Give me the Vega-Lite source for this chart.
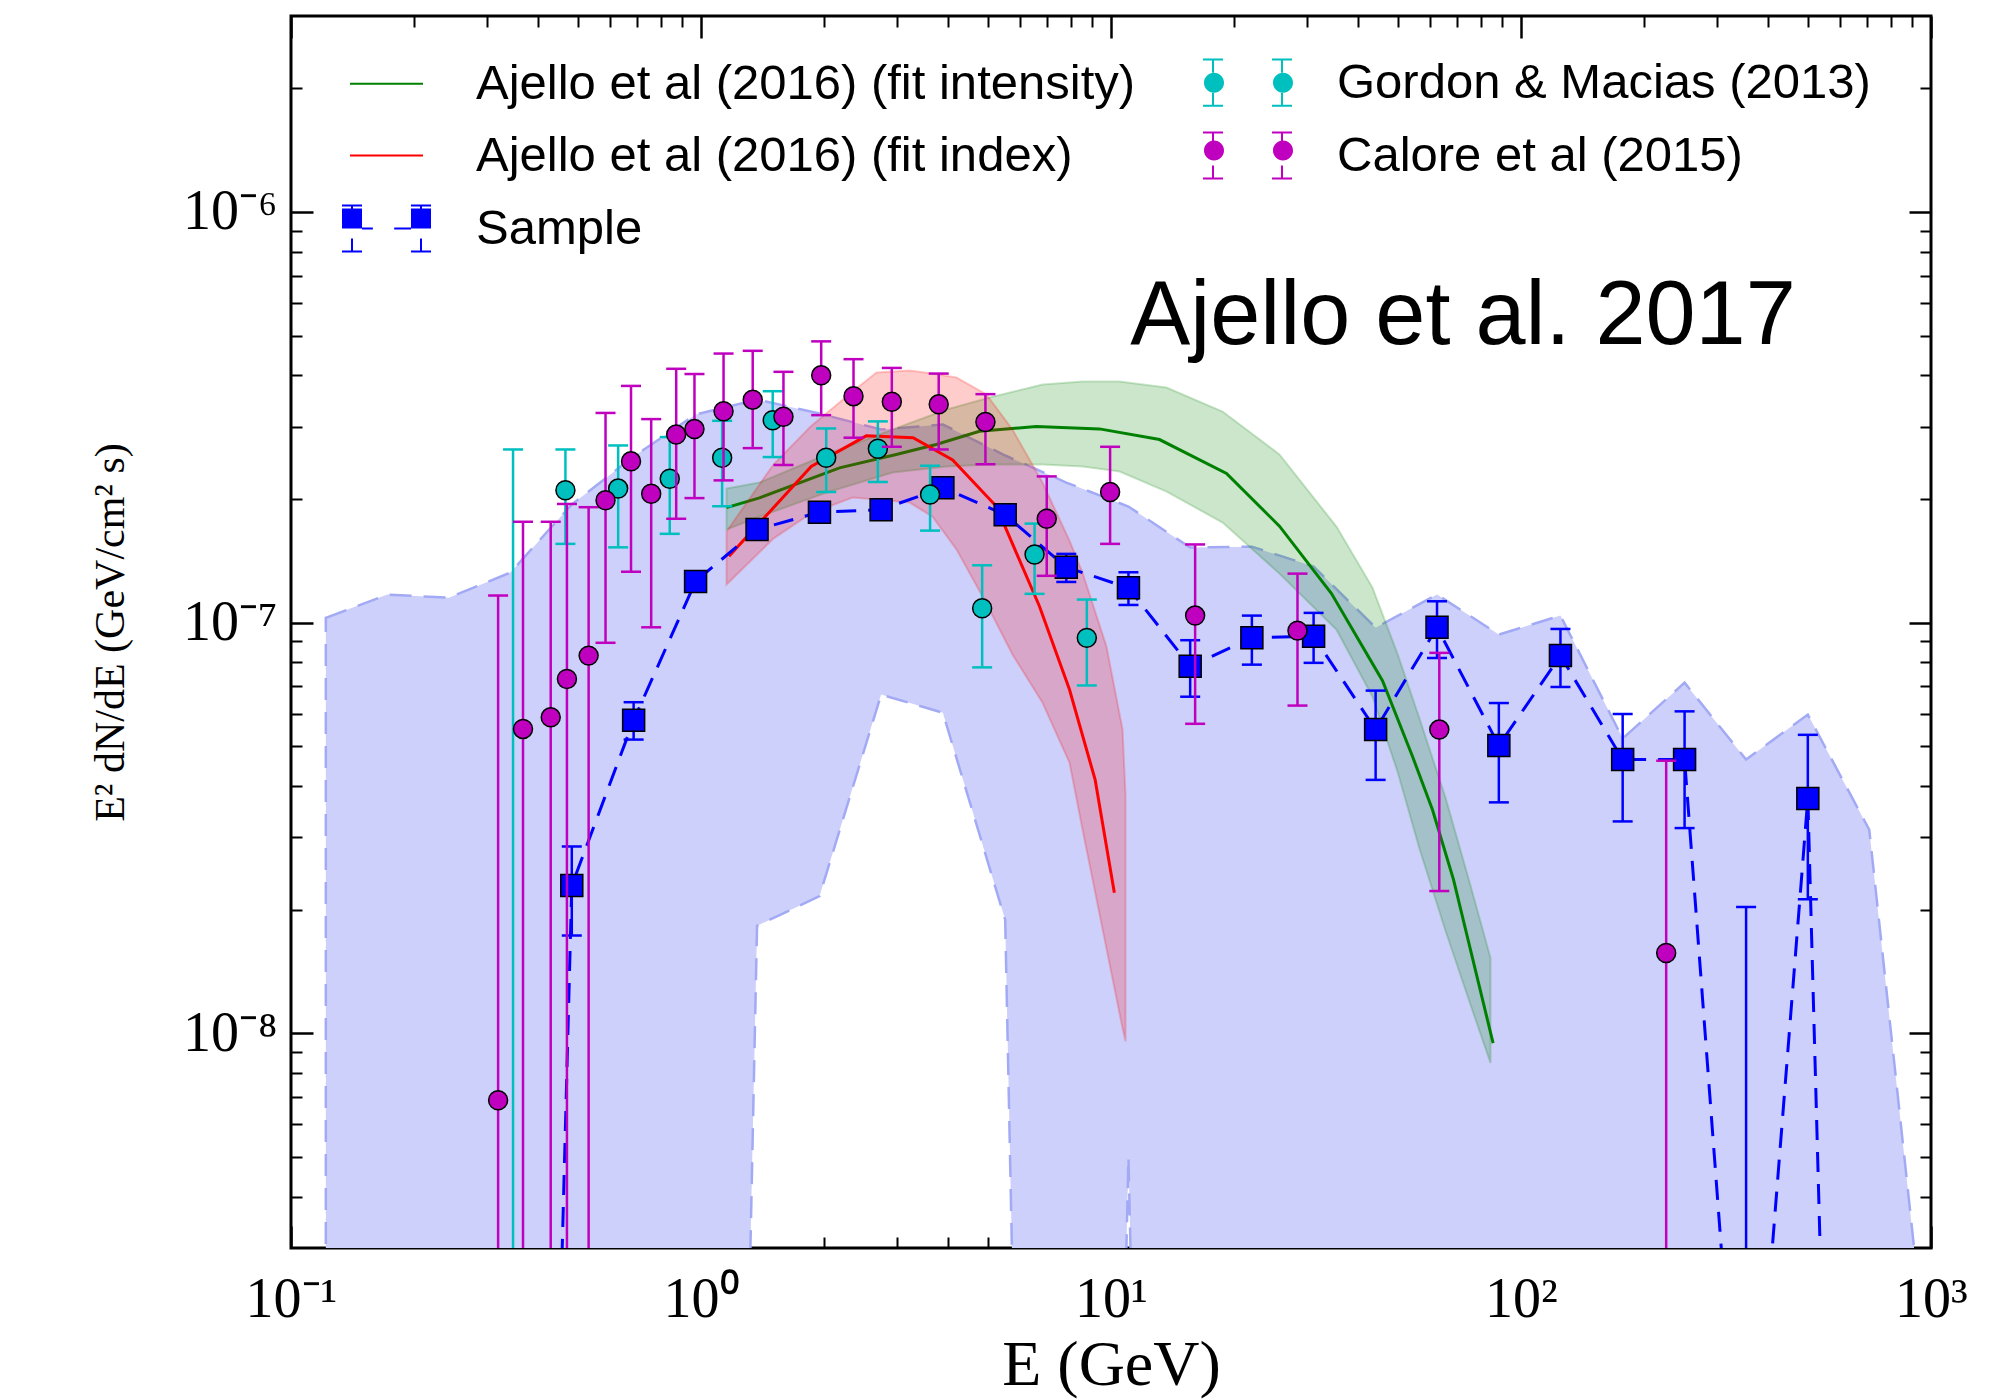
{
  "$schema": "https://vega.github.io/schema/vega-lite/v6.json",
  "width": 1640,
  "height": 1232,
  "autosize": {"type": "none"},
  "padding": {"left": 291, "top": 16, "right": 72, "bottom": 152},
  "background": "white",
  "config": {
    "view": {"stroke": "black", "strokeWidth": 3},
    "axis": {"grid": false, "domain": false, "tickColor": "black", "labelColor": "black", "titleColor": "black"}
  },
  "datasets": {
    "band": [
      {"E": 0.1216, "lo": 1e-15, "hi": 1.027e-7},
      {"E": 0.1718, "lo": 1e-15, "hi": 1.170e-7},
      {"E": 0.2427, "lo": 1e-15, "hi": 1.150e-7},
      {"E": 0.343, "lo": 1e-15, "hi": 1.324e-7},
      {"E": 0.484, "lo": 1e-15, "hi": 1.939e-7},
      {"E": 0.685, "lo": 1e-15, "hi": 2.538e-7},
      {"E": 0.97, "lo": 1e-15, "hi": 3.211e-7},
      {"E": 1.37, "lo": 1.827e-8, "hi": 3.493e-7},
      {"E": 1.945, "lo": 2.157e-8, "hi": 3.229e-7},
      {"E": 2.75, "lo": 6.68e-8, "hi": 2.952e-7},
      {"E": 3.89, "lo": 6.03e-8, "hi": 3.036e-7},
      {"E": 5.52, "lo": 1.89e-8, "hi": 2.552e-7},
      {"E": 7.78, "lo": 1e-15, "hi": 2.193e-7},
      {"E": 11.03, "lo": 5.0e-9, "hi": 1.917e-7},
      {"E": 15.6, "lo": 1e-15, "hi": 1.523e-7},
      {"E": 22.06, "lo": 1e-15, "hi": 1.531e-7},
      {"E": 31.2, "lo": 1e-15, "hi": 1.369e-7},
      {"E": 44.2, "lo": 1e-15, "hi": 9.72e-8},
      {"E": 62.4, "lo": 1e-15, "hi": 1.170e-7},
      {"E": 88.3, "lo": 1e-15, "hi": 9.35e-8},
      {"E": 124.8, "lo": 1e-15, "hi": 1.040e-7},
      {"E": 177, "lo": 1e-15, "hi": 5.22e-8},
      {"E": 250.6, "lo": 1e-15, "hi": 7.14e-8},
      {"E": 354, "lo": 1e-15, "hi": 4.64e-8},
      {"E": 500.7, "lo": 1e-15, "hi": 5.97e-8},
      {"E": 707, "lo": 1e-15, "hi": 3.13e-8},
      {"E": 1000, "lo": 1e-15, "hi": 1.24e-9}
    ],
    "intensityBand": [
      {"E": 1.154, "lo": 1.685e-7, "hi": 2.120e-7},
      {"E": 1.389, "lo": 1.812e-7, "hi": 2.193e-7},
      {"E": 2.023, "lo": 2.073e-7, "hi": 2.567e-7},
      {"E": 2.932, "lo": 2.320e-7, "hi": 2.952e-7},
      {"E": 3.971, "lo": 2.399e-7, "hi": 3.303e-7},
      {"E": 5.055, "lo": 2.426e-7, "hi": 3.533e-7},
      {"E": 6.808, "lo": 2.426e-7, "hi": 3.800e-7},
      {"E": 8.52, "lo": 2.399e-7, "hi": 3.865e-7},
      {"E": 10.49, "lo": 2.333e-7, "hi": 3.865e-7},
      {"E": 13.66, "lo": 2.085e-7, "hi": 3.737e-7},
      {"E": 18.71, "lo": 1.752e-7, "hi": 3.266e-7},
      {"E": 25.76, "lo": 1.316e-7, "hi": 2.567e-7},
      {"E": 35.48, "lo": 9.61e-8, "hi": 1.713e-7},
      {"E": 43.43, "lo": 6.60e-8, "hi": 1.217e-7},
      {"E": 49.97, "lo": 4.34e-8, "hi": 8.40e-8},
      {"E": 56.55, "lo": 2.814e-8, "hi": 5.84e-8},
      {"E": 65.44, "lo": 1.777e-8, "hi": 3.75e-8},
      {"E": 74.87, "lo": 1.193e-8, "hi": 2.339e-8},
      {"E": 84.25, "lo": 8.47e-9, "hi": 1.527e-8}
    ],
    "intensityLine": [
      {"E": 1.154, "v": 1.905e-7},
      {"E": 1.389, "v": 2.013e-7},
      {"E": 2.177, "v": 2.381e-7},
      {"E": 2.993, "v": 2.567e-7},
      {"E": 3.747, "v": 2.714e-7},
      {"E": 4.778, "v": 2.924e-7},
      {"E": 6.57, "v": 3.002e-7},
      {"E": 9.376, "v": 2.963e-7},
      {"E": 13.13, "v": 2.791e-7},
      {"E": 19.13, "v": 2.307e-7},
      {"E": 25.76, "v": 1.717e-7},
      {"E": 34.5, "v": 1.177e-7},
      {"E": 45.94, "v": 7.22e-8},
      {"E": 54.38, "v": 4.72e-8},
      {"E": 60.83, "v": 3.50e-8},
      {"E": 68.45, "v": 2.366e-8},
      {"E": 85.5, "v": 9.46e-9}
    ],
    "indexBand": [
      {"E": 1.154, "lo": 1.238e-7, "hi": 1.667e-7},
      {"E": 1.502, "lo": 1.602e-7, "hi": 2.426e-7},
      {"E": 1.85, "lo": 1.843e-7, "hi": 3.002e-7},
      {"E": 2.342, "lo": 2.016e-7, "hi": 3.654e-7},
      {"E": 2.679, "lo": 1.994e-7, "hi": 4.064e-7},
      {"E": 3.225, "lo": 1.960e-7, "hi": 4.110e-7},
      {"E": 3.669, "lo": 1.812e-7, "hi": 4.042e-7},
      {"E": 4.201, "lo": 1.506e-7, "hi": 3.952e-7},
      {"E": 4.97, "lo": 1.112e-7, "hi": 3.593e-7},
      {"E": 5.75, "lo": 8.36e-8, "hi": 2.952e-7},
      {"E": 6.808, "lo": 6.38e-8, "hi": 2.193e-7},
      {"E": 7.921, "lo": 4.56e-8, "hi": 1.584e-7},
      {"E": 8.52, "lo": 3.14e-8, "hi": 1.324e-7},
      {"E": 9.75, "lo": 1.607e-8, "hi": 8.74e-8},
      {"E": 10.67, "lo": 1.028e-8, "hi": 5.49e-8},
      {"E": 10.85, "lo": 9.56e-9, "hi": 3.79e-8}
    ],
    "indexLine": [
      {"E": 1.17, "v": 1.45e-7},
      {"E": 1.857, "v": 2.40e-7},
      {"E": 2.53, "v": 2.85e-7},
      {"E": 3.29, "v": 2.82e-7},
      {"E": 4.11, "v": 2.49e-7},
      {"E": 5.25, "v": 1.92e-7},
      {"E": 6.69, "v": 1.096e-7},
      {"E": 7.92, "v": 6.87e-8},
      {"E": 9.15, "v": 4.14e-8},
      {"E": 10.19, "v": 2.20e-8}
    ],
    "sample": [
      {"E": 0.343, "v": 5e-14},
      {"E": 0.484, "v": 2.29e-8, "lo": 1.73e-8, "hi": 2.85e-8},
      {"E": 0.685, "v": 5.78e-8, "lo": 5.19e-8, "hi": 6.4e-8},
      {"E": 0.97, "v": 1.26e-7, "lo": 1.21e-7, "hi": 1.31e-7},
      {"E": 1.37, "v": 1.685e-7, "lo": 1.62e-7, "hi": 1.75e-7},
      {"E": 1.945, "v": 1.857e-7, "lo": 1.79e-7, "hi": 1.93e-7},
      {"E": 2.75, "v": 1.884e-7, "lo": 1.81e-7, "hi": 1.96e-7},
      {"E": 3.89, "v": 2.13e-7, "lo": 2.05e-7, "hi": 2.21e-7},
      {"E": 5.52, "v": 1.83e-7, "lo": 1.76e-7, "hi": 1.9e-7},
      {"E": 7.78, "v": 1.364e-7, "lo": 1.256e-7, "hi": 1.47e-7},
      {"E": 11.03, "v": 1.215e-7, "lo": 1.104e-7, "hi": 1.326e-7},
      {"E": 15.6, "v": 7.83e-8, "lo": 6.6e-8, "hi": 9.06e-8},
      {"E": 22.06, "v": 9.18e-8, "lo": 7.9e-8, "hi": 1.04e-7},
      {"E": 31.2, "v": 9.26e-8, "lo": 7.98e-8, "hi": 1.056e-7},
      {"E": 44.2, "v": 5.49e-8, "lo": 4.14e-8, "hi": 6.83e-8},
      {"E": 62.4, "v": 9.74e-8, "lo": 8.2e-8, "hi": 1.127e-7},
      {"E": 88.3, "v": 5.02e-8, "lo": 3.65e-8, "hi": 6.37e-8},
      {"E": 124.8, "v": 8.31e-8, "lo": 6.97e-8, "hi": 9.65e-8},
      {"E": 177, "v": 4.64e-8, "lo": 3.28e-8, "hi": 5.99e-8},
      {"E": 250.6, "v": 4.64e-8, "lo": 3.16e-8, "hi": 6.08e-8},
      {"E": 354, "v": 4.7e-10, "lo": 1e-12, "hi": 2.03e-8},
      {"E": 500.7, "v": 3.73e-8, "lo": 2.12e-8, "hi": 5.33e-8},
      {"E": 707, "v": 1.3e-13}
    ],
    "gordon": [
      {"E": 0.348, "v": 1e-9, "lo": 1e-12, "hi": 2.64e-7},
      {"E": 0.467, "v": 2.10e-7, "lo": 1.555e-7, "hi": 2.64e-7},
      {"E": 0.628, "v": 2.12e-7, "lo": 1.525e-7, "hi": 2.70e-7},
      {"E": 0.839, "v": 2.24e-7, "lo": 1.645e-7, "hi": 2.83e-7},
      {"E": 1.126, "v": 2.52e-7, "lo": 1.92e-7, "hi": 3.10e-7},
      {"E": 1.496, "v": 3.11e-7, "lo": 2.53e-7, "hi": 3.66e-7},
      {"E": 2.02, "v": 2.52e-7, "lo": 2.08e-7, "hi": 2.97e-7},
      {"E": 2.7, "v": 2.65e-7, "lo": 2.20e-7, "hi": 3.09e-7},
      {"E": 3.62, "v": 2.05e-7, "lo": 1.675e-7, "hi": 2.41e-7},
      {"E": 4.85, "v": 1.084e-7, "lo": 7.78e-8, "hi": 1.379e-7},
      {"E": 6.51, "v": 1.465e-7, "lo": 1.175e-7, "hi": 1.742e-7},
      {"E": 8.73, "v": 9.18e-8, "lo": 7.03e-8, "hi": 1.138e-7}
    ],
    "calore": [
      {"E": 0.32, "v": 6.87e-9, "lo": 1e-12, "hi": 1.164e-7},
      {"E": 0.368, "v": 5.51e-8, "lo": 1e-12, "hi": 1.76e-7},
      {"E": 0.43, "v": 5.88e-8, "lo": 1e-12, "hi": 1.76e-7},
      {"E": 0.471, "v": 7.29e-8, "lo": 1e-12, "hi": 1.945e-7},
      {"E": 0.532, "v": 8.31e-8, "lo": 1e-12, "hi": 1.91e-7},
      {"E": 0.585, "v": 1.986e-7, "lo": 8.93e-8, "hi": 3.24e-7},
      {"E": 0.675, "v": 2.47e-7, "lo": 1.33e-7, "hi": 3.77e-7},
      {"E": 0.756, "v": 2.06e-7, "lo": 9.74e-8, "hi": 3.13e-7},
      {"E": 0.87, "v": 2.87e-7, "lo": 1.79e-7, "hi": 4.15e-7},
      {"E": 0.964, "v": 2.96e-7, "lo": 2.01e-7, "hi": 4.03e-7},
      {"E": 1.135, "v": 3.27e-7, "lo": 2.22e-7, "hi": 4.52e-7},
      {"E": 1.337, "v": 3.49e-7, "lo": 2.66e-7, "hi": 4.59e-7},
      {"E": 1.589, "v": 3.17e-7, "lo": 2.42e-7, "hi": 4.08e-7},
      {"E": 1.964, "v": 4.0e-7, "lo": 3.20e-7, "hi": 4.84e-7},
      {"E": 2.355, "v": 3.56e-7, "lo": 2.82e-7, "hi": 4.38e-7},
      {"E": 2.92, "v": 3.45e-7, "lo": 2.68e-7, "hi": 4.17e-7},
      {"E": 3.8, "v": 3.40e-7, "lo": 2.64e-7, "hi": 4.04e-7},
      {"E": 4.94, "v": 3.08e-7, "lo": 2.43e-7, "hi": 3.6e-7},
      {"E": 6.97, "v": 1.79e-7, "lo": 1.30e-7, "hi": 2.27e-7},
      {"E": 9.95, "v": 2.08e-7, "lo": 1.555e-7, "hi": 2.68e-7},
      {"E": 16.04, "v": 1.04e-7, "lo": 5.67e-8, "hi": 1.55e-7},
      {"E": 28.5, "v": 9.56e-8, "lo": 6.28e-8, "hi": 1.316e-7},
      {"E": 63.2, "v": 5.49e-8, "lo": 2.22e-8, "hi": 8.44e-8},
      {"E": 226, "v": 1.568e-8, "lo": 1e-12, "hi": 4.61e-8}
    ]
  },
  "resolve": {"axis": {"x": "independent", "y": "independent"}},
  "layer": [
    {
      "data": {"name": "band"},
      "mark": {"type": "area", "clip": true, "fill": "#cdd0fa", "stroke": "#a3aaf5", "strokeWidth": 2.5, "strokeDash": [22, 12]},
      "encoding": {
        "x": {
          "field": "E", "type": "quantitative",
          "scale": {"type": "log", "domain": [0.1, 1000], "nice": false},
          "axis": {
            "orient": "bottom", "values": [0.1, 1, 10, 100, 1000],
            "tickSize": -22, "tickWidth": 2.5, "domain": false, "grid": false,
            "labelExpr": "datum.value < 0.5 ? '10⁻¹' : datum.value < 5 ? '10⁰' : datum.value < 50 ? '10¹' : datum.value < 500 ? '10²' : '10³'",
            "labelFont": "Liberation Serif", "labelFontSize": 56, "labelPadding": 46,
            "labelFlush": false, "labelOverlap": false, "labelBound": false,
            "title": "E (GeV)", "titleFont": "Liberation Serif", "titleFontSize": 64,
            "titleFontWeight": "normal", "titlePadding": 6
          }
        },
        "y": {
          "field": "hi", "type": "quantitative",
          "scale": {"type": "log", "domain": [3e-9, 3e-6], "nice": false},
          "axis": {
            "orient": "left", "values": [1e-8, 1e-7, 1e-6],
            "tickSize": -22, "tickWidth": 2.5, "domain": false, "grid": false,
            "labelExpr": "datum.value < 5e-8 ? '10⁻⁸' : datum.value < 5e-7 ? '10⁻⁷' : '10⁻⁶'",
            "labelFont": "Liberation Serif", "labelFontSize": 56, "labelPadding": 36,
            "labelFlush": false, "labelOverlap": false, "labelBound": false,
            "title": "E² dN/dE  (GeV/cm² s)", "titleFont": "Liberation Serif", "titleFontSize": 42,
            "titleFontWeight": "normal", "titlePadding": 50
          }
        },
        "y2": {"field": "lo"}
      }
    },
    {
      "data": {"name": "intensityBand"},
      "mark": {"type": "area", "clip": true, "fill": "#008000", "fillOpacity": 0.2, "stroke": "#008000", "strokeOpacity": 0.2, "strokeWidth": 2},
      "encoding": {
        "x": {
          "field": "E", "type": "quantitative",
          "axis": {"orient": "bottom", "values": [0.2, 0.3, 0.4, 0.5, 0.6, 0.7, 0.8, 0.9, 2, 3, 4, 5, 6, 7, 8, 9, 20, 30, 40, 50, 60, 70, 80, 90, 200, 300, 400, 500, 600, 700, 800, 900],
                   "tickSize": -11, "tickWidth": 2, "labels": false, "domain": false, "grid": false, "title": null}
        },
        "y": {
          "field": "hi", "type": "quantitative",
          "axis": {"orient": "left", "values": [4e-9, 5e-9, 6e-9, 7e-9, 8e-9, 9e-9, 2e-8, 3e-8, 4e-8, 5e-8, 6e-8, 7e-8, 8e-8, 9e-8, 2e-7, 3e-7, 4e-7, 5e-7, 6e-7, 7e-7, 8e-7, 9e-7, 2e-6],
                   "tickSize": -11, "tickWidth": 2, "labels": false, "domain": false, "grid": false, "title": null}
        },
        "y2": {"field": "lo"}
      }
    },
    {
      "data": {"name": "intensityLine"},
      "mark": {"type": "line", "clip": true, "strokeWidth": 3},
      "encoding": {
        "x": {
          "field": "E", "type": "quantitative",
          "axis": {"orient": "top", "values": [0.1, 1, 10, 100, 1000], "tickSize": -22, "tickWidth": 2.5, "labels": false, "domain": false, "grid": false, "title": null}
        },
        "y": {
          "field": "v", "type": "quantitative",
          "axis": {"orient": "right", "values": [1e-8, 1e-7, 1e-6], "tickSize": -22, "tickWidth": 2.5, "labels": false, "domain": false, "grid": false, "title": null}
        },
        "stroke": {
          "datum": "Ajello et al (2016) (fit intensity)",
          "scale": {
            "domain": ["Ajello et al (2016) (fit intensity)", "Gordon & Macias (2013)", "Ajello et al (2016) (fit index)", "Calore et al (2015)", "Sample"],
            "range": ["#008000", "#00bfbf", "#ff0000", "#bf00bf", "#0000ff"]
          },
          "legend": {
            "orient": "none", "legendX": 51, "legendY": 42, "columns": 2, "direction": "horizontal", "title": null, "padding": 0,
            "symbolSize": 1936, "symbolStrokeWidth": 2, "symbolOffset": 20,
            "labelFont": "Liberation Sans", "labelFontSize": 49, "labelColor": "black",
            "labelOffset": 65, "labelLimit": 2000, "rowPadding": 18, "columnPadding": 62,
            "encode": {
              "symbols": {
                "update": {
                  "shape": {"signal": "datum.value === 'Sample' ? 'M-1.568,-1.05V-0.455M-1.568,0.455V1.05M-2.023,-1.05H-1.113M-2.023,1.05H-1.113M1.568,-1.05V-0.455M1.568,0.455V1.05M1.113,-1.05H2.023M1.113,1.05H2.023M-1.113,0H-0.62M0.35,0H1.113' : indexof(datum.value, 'Ajello') === 0 ? 'M-1.659,0H1.659' : 'M-1.568,-1.05V-0.455M-1.568,0.455V1.05M-2.023,-1.05H-1.113M-2.023,1.05H-1.113M1.568,-1.05V-0.455M1.568,0.455V1.05M1.113,-1.05H2.023M1.113,1.05H2.023'"},
                  "fill": {"value": "transparent"},
                  "strokeWidth": {"value": 2}
                }
              }
            }
          }
        }
      }
    },
    {
      "data": {"name": "indexBand"},
      "mark": {"type": "area", "clip": true, "fill": "#ff0000", "fillOpacity": 0.2, "stroke": "#ff0000", "strokeOpacity": 0.2, "strokeWidth": 2},
      "encoding": {
        "x": {
          "field": "E", "type": "quantitative",
          "axis": {"orient": "top", "values": [0.2, 0.3, 0.4, 0.5, 0.6, 0.7, 0.8, 0.9, 2, 3, 4, 5, 6, 7, 8, 9, 20, 30, 40, 50, 60, 70, 80, 90, 200, 300, 400, 500, 600, 700, 800, 900],
                   "tickSize": -11, "tickWidth": 2, "labels": false, "domain": false, "grid": false, "title": null}
        },
        "y": {
          "field": "hi", "type": "quantitative",
          "axis": {"orient": "right", "values": [4e-9, 5e-9, 6e-9, 7e-9, 8e-9, 9e-9, 2e-8, 3e-8, 4e-8, 5e-8, 6e-8, 7e-8, 8e-8, 9e-8, 2e-7, 3e-7, 4e-7, 5e-7, 6e-7, 7e-7, 8e-7, 9e-7, 2e-6],
                   "tickSize": -11, "tickWidth": 2, "labels": false, "domain": false, "grid": false, "title": null}
        },
        "y2": {"field": "lo"}
      }
    },
    {
      "data": {"name": "indexLine"},
      "mark": {"type": "line", "clip": true, "strokeWidth": 3},
      "encoding": {
        "x": {"field": "E", "type": "quantitative", "axis": null},
        "y": {"field": "v", "type": "quantitative", "axis": null},
        "stroke": {"datum": "Ajello et al (2016) (fit index)", "legend": null}
      }
    },
    {
      "data": {"name": "sample"},
      "mark": {"type": "line", "clip": true, "strokeWidth": 3, "strokeDash": [20, 12]},
      "encoding": {
        "x": {"field": "E", "type": "quantitative", "axis": null},
        "y": {"field": "v", "type": "quantitative", "axis": null},
        "stroke": {"datum": "Sample", "legend": null}
      }
    },
    {
      "data": {"name": "sample"},
      "mark": {"type": "rule", "clip": true, "strokeWidth": 2.5},
      "encoding": {
        "x": {"field": "E", "type": "quantitative", "axis": null},
        "y": {"field": "lo", "type": "quantitative", "axis": null},
        "y2": {"field": "hi"},
        "stroke": {"datum": "Sample", "legend": null}
      }
    },
    {
      "data": {"name": "sample"},
      "mark": {"type": "point", "clip": true, "shape": "M-1,0H1", "size": 400, "strokeWidth": 2.5, "filled": false, "opacity": 1},
      "encoding": {
        "x": {"field": "E", "type": "quantitative", "axis": null},
        "y": {"field": "hi", "type": "quantitative", "axis": null},
        "stroke": {"datum": "Sample", "legend": null}
      }
    },
    {
      "data": {"name": "sample"},
      "mark": {"type": "point", "clip": true, "shape": "M-1,0H1", "size": 400, "strokeWidth": 2.5, "filled": false, "opacity": 1},
      "encoding": {
        "x": {"field": "E", "type": "quantitative", "axis": null},
        "y": {"field": "lo", "type": "quantitative", "axis": null},
        "stroke": {"datum": "Sample", "legend": null}
      }
    },
    {
      "data": {"name": "sample"},
      "mark": {"type": "point", "clip": true, "shape": "square", "size": 484, "filled": true, "fill": "#0000ff", "stroke": "black", "strokeWidth": 1.5, "opacity": 1},
      "encoding": {
        "x": {"field": "E", "type": "quantitative", "axis": null},
        "y": {"field": "v", "type": "quantitative", "axis": null}
      }
    },
    {
      "data": {"name": "gordon"},
      "mark": {"type": "rule", "clip": true, "strokeWidth": 2.5},
      "encoding": {
        "x": {"field": "E", "type": "quantitative", "axis": null},
        "y": {"field": "lo", "type": "quantitative", "axis": null},
        "y2": {"field": "hi"},
        "stroke": {"datum": "Gordon & Macias (2013)", "legend": null}
      }
    },
    {
      "data": {"name": "gordon"},
      "mark": {"type": "point", "clip": true, "shape": "M-1,0H1", "size": 400, "strokeWidth": 2.5, "filled": false, "opacity": 1},
      "encoding": {
        "x": {"field": "E", "type": "quantitative", "axis": null},
        "y": {"field": "hi", "type": "quantitative", "axis": null},
        "stroke": {"datum": "Gordon & Macias (2013)", "legend": null}
      }
    },
    {
      "data": {"name": "gordon"},
      "mark": {"type": "point", "clip": true, "shape": "M-1,0H1", "size": 400, "strokeWidth": 2.5, "filled": false, "opacity": 1},
      "encoding": {
        "x": {"field": "E", "type": "quantitative", "axis": null},
        "y": {"field": "lo", "type": "quantitative", "axis": null},
        "stroke": {"datum": "Gordon & Macias (2013)", "legend": null}
      }
    },
    {
      "data": {"name": "gordon"},
      "mark": {"type": "point", "clip": true, "shape": "circle", "size": 360, "filled": true, "fill": "#00bfbf", "stroke": "black", "strokeWidth": 1.5, "opacity": 1},
      "encoding": {
        "x": {"field": "E", "type": "quantitative", "axis": null},
        "y": {"field": "v", "type": "quantitative", "axis": null}
      }
    },
    {
      "data": {"name": "calore"},
      "mark": {"type": "rule", "clip": true, "strokeWidth": 2.5},
      "encoding": {
        "x": {"field": "E", "type": "quantitative", "axis": null},
        "y": {"field": "lo", "type": "quantitative", "axis": null},
        "y2": {"field": "hi"},
        "stroke": {"datum": "Calore et al (2015)", "legend": null}
      }
    },
    {
      "data": {"name": "calore"},
      "mark": {"type": "point", "clip": true, "shape": "M-1,0H1", "size": 400, "strokeWidth": 2.5, "filled": false, "opacity": 1},
      "encoding": {
        "x": {"field": "E", "type": "quantitative", "axis": null},
        "y": {"field": "hi", "type": "quantitative", "axis": null},
        "stroke": {"datum": "Calore et al (2015)", "legend": null}
      }
    },
    {
      "data": {"name": "calore"},
      "mark": {"type": "point", "clip": true, "shape": "M-1,0H1", "size": 400, "strokeWidth": 2.5, "filled": false, "opacity": 1},
      "encoding": {
        "x": {"field": "E", "type": "quantitative", "axis": null},
        "y": {"field": "lo", "type": "quantitative", "axis": null},
        "stroke": {"datum": "Calore et al (2015)", "legend": null}
      }
    },
    {
      "data": {"name": "calore"},
      "mark": {"type": "point", "clip": true, "shape": "circle", "size": 360, "filled": true, "fill": "#bf00bf", "stroke": "black", "strokeWidth": 1.5, "opacity": 1},
      "encoding": {
        "x": {"field": "E", "type": "quantitative", "axis": null},
        "y": {"field": "v", "type": "quantitative", "axis": null}
      }
    },
    {
      "data": {"values": [{"E": 11.14, "v": 4.77e-7, "label": "Ajello et al. 2017"}]},
      "mark": {"type": "text", "align": "left", "baseline": "alphabetic", "font": "Liberation Sans", "fontSize": 90, "color": "black"},
      "encoding": {
        "x": {"field": "E", "type": "quantitative", "axis": null},
        "y": {"field": "v", "type": "quantitative", "axis": null},
        "text": {"field": "label"}
      }
    },
    {
      "data": {"name": "sample"},
      "mark": {"type": "point", "clip": true, "filled": true, "opacity": 0},
      "encoding": {
        "x": {"field": "E", "type": "quantitative", "axis": null},
        "y": {"field": "v", "type": "quantitative", "axis": null},
        "shape": {
          "datum": "Sample",
          "scale": {
            "domain": ["Ajello et al (2016) (fit intensity)", "Gordon & Macias (2013)", "Ajello et al (2016) (fit index)", "Calore et al (2015)", "Sample", " "],
            "range": [
              "M0,0L0,0",
              "M-2.023,0A0.455,0.455,0,1,1,-1.113,0A0.455,0.455,0,1,1,-2.023,0ZM1.113,0A0.455,0.455,0,1,1,2.023,0A0.455,0.455,0,1,1,1.113,0Z",
              "M0,0L0,0",
              "M-2.023,0A0.455,0.455,0,1,1,-1.113,0A0.455,0.455,0,1,1,-2.023,0ZM1.113,0A0.455,0.455,0,1,1,2.023,0A0.455,0.455,0,1,1,1.113,0Z",
              "M-2.023,-0.455H-1.113V0.455H-2.023ZM1.113,-0.455H2.023V0.455H1.113Z",
              "circle"
            ]
          },
          "legend": {
            "orient": "none", "legendX": 51, "legendY": 42, "columns": 2, "direction": "horizontal", "title": null, "padding": 0,
            "values": ["Ajello et al (2016) (fit intensity)", "Gordon & Macias (2013)", "Ajello et al (2016) (fit index)", "Calore et al (2015)", "Sample"],
            "symbolSize": 1936, "symbolStrokeWidth": 2, "symbolOffset": 20, "symbolStrokeColor": "black", "symbolOpacity": 1,
            "labelFont": "Liberation Sans", "labelFontSize": 49, "labelExpr": "''",
            "labelOffset": 725.5, "labelLimit": 2000, "rowPadding": 18, "columnPadding": 62
          }
        },
        "fill": {
          "datum": "Sample",
          "scale": {
            "domain": ["Ajello et al (2016) (fit intensity)", "Gordon & Macias (2013)", "Ajello et al (2016) (fit index)", "Calore et al (2015)", "Sample", " "],
            "range": ["#008000", "#00bfbf", "#ff0000", "#bf00bf", "#0000ff", "#ffffff"]
          },
          "legend": {
            "orient": "none", "legendX": 51, "legendY": 42, "columns": 2, "direction": "horizontal", "title": null, "padding": 0,
            "values": ["Ajello et al (2016) (fit intensity)", "Gordon & Macias (2013)", "Ajello et al (2016) (fit index)", "Calore et al (2015)", "Sample"],
            "symbolSize": 1936, "symbolStrokeWidth": 2, "symbolOffset": 20, "symbolStrokeColor": "black", "symbolOpacity": 1,
            "labelFont": "Liberation Sans", "labelFontSize": 49, "labelExpr": "''",
            "labelOffset": 725.5, "labelLimit": 2000, "rowPadding": 18, "columnPadding": 62
          }
        }
      }
    }
  ]
}
